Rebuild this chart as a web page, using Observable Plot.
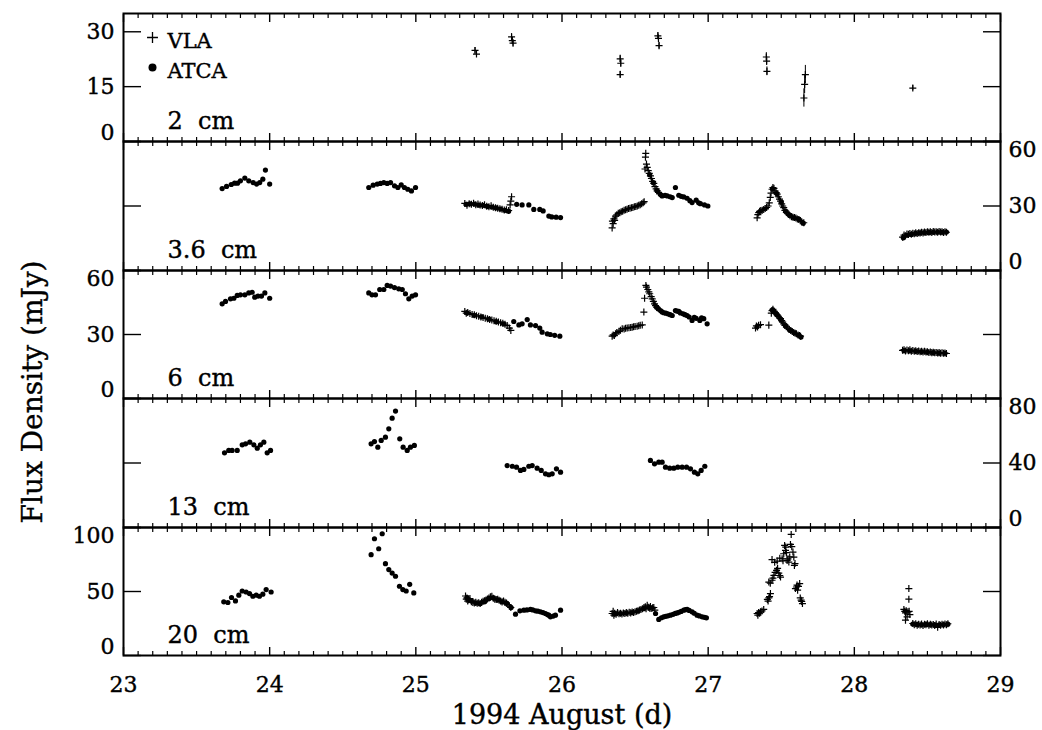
<!DOCTYPE html>
<html><head><meta charset="utf-8">
<script src="https://cdn.jsdelivr.net/npm/d3@7"></script>
<script src="https://cdn.jsdelivr.net/npm/@observablehq/plot@0.6"></script>
<style>
body{margin:0;background:#fff;}
#wrap{position:relative;width:1042px;height:730px;overflow:hidden;background:#fff;}
#ytitle{position:absolute;left:32px;top:392px;transform:translate(-50%,-50%) rotate(-90deg);white-space:nowrap;font-family:'DejaVu Serif',serif;font-size:28px;color:#000;-webkit-text-stroke:0.4px #000;}
#wrap svg{display:block;}
#wrap svg text{stroke:#000;stroke-width:0.4px;}
</style></head>
<body><div id="wrap"><div id="ytitle"></div></div>
<script>
// ---------- data ----------
const xTicks = [23, 24, 25, 26, 27, 28, 29];
const xTitle = "1994 August (d)";
const yTitle = "Flux Density (mJy)";
const legendLabels = ["VLA", "ATCA"];
const panelLabels = ["2\u00a0\u00a0cm", "3.6\u00a0\u00a0cm", "6\u00a0\u00a0cm", "13\u00a0\u00a0cm", "20\u00a0\u00a0cm"];
const ticks2cm = [0, 15, 30], ticks36 = [0, 30, 60], ticks6 = [0, 30, 60], ticks13 = [0, 40, 80], ticks20 = [0, 50, 100];
const dom2cm = [0, 35], dom36 = [0, 60], dom6 = [0, 60], dom13 = [0, 80], dom20 = [0, 100];

// [day, flux, error]
const vla2cm = [
[25.405,24.9,0.8],[25.415,23.9,0.8],
[25.655,28.6,0.9],[25.66,27.6,0.9],[25.665,26.9,0.9],
[26.398,22.6,1.0],[26.402,21.4,1.0],[26.398,18.3,0.9],
[26.656,28.9,0.9],[26.66,28.2,0.9],[26.664,26.2,0.9],
[27.398,23.1,1.2],[27.40,22.0,1.2],[27.402,19.2,1.2],
[27.665,18.3,2.5],[27.66,15.6,2.5],[27.655,11.9,2.5],
[28.40,14.6,0.7]
];

const atca36 = [
[23.675,38.1],[23.705,39.1],[23.737,40.0],[23.76,40.6],[23.78,40.6],[23.80,41.7],[23.83,43.0],[23.857,41.7],[23.887,40.9],[23.91,40.2],[23.932,40.9],[23.953,42.5],[23.971,46.7],[24.0,40.2],
[24.678,38.6],[24.708,39.7],[24.736,40.2],[24.758,40.5],[24.781,40.9],[24.804,40.5],[24.827,40.9],[24.854,39.4],[24.877,38.6],[24.90,39.8],[24.922,38.6],[24.945,37.8],[24.97,37.0],[24.998,38.6],
[25.345,30.8],[25.37,31.0],[25.40,30.9],[25.43,30.4],[25.46,30.3],[25.49,29.8],[25.52,29.5],[25.55,29.1],[25.58,28.6],[25.61,28.0],[25.635,27.6],
[25.69,30.8],[25.727,30.5],[25.773,30.5],[25.807,28.4],[25.848,28.4],[25.871,27.7],[25.91,25.3],[25.93,24.9],[25.96,24.8],[25.99,24.6],
[26.60,44.5],[26.625,40.8],[26.65,37.2],[26.674,35.3],
[26.685,34.7],[26.705,34.9],[26.72,34.7],[26.74,34.3],[26.754,33.9],[26.776,38.6],[26.799,35.0],[26.815,34.5],[26.833,34.2],[26.856,33.6],[26.875,32.5],[26.89,31.6],[26.918,32.7],[26.935,31.5],[26.947,31.1],[26.975,30.5],[26.998,30.0],
[27.44,38.0],[27.47,35.8],[27.50,31.8],[27.53,27.6],[27.56,25.6],[27.59,24.5],[27.62,23.9],[27.65,22.0],
[28.335,15.2],[28.36,16.4],[28.39,16.8],[28.42,17.3],[28.45,17.5],[28.48,17.6],[28.51,17.7],[28.54,17.8],[28.57,17.9],[28.60,17.8],[28.63,17.9]
];
const vla36 = [
[25.335,31.2],[25.35,30.4],[25.365,31.0],[25.38,30.8],[25.395,31.3],[25.41,30.6],[25.425,30.9],[25.44,30.5],[25.455,30.2],[25.47,30.6],[25.485,29.9],[25.50,29.7],[25.515,30.1],[25.53,29.4],[25.545,29.2],[25.56,29.0],[25.575,28.7],[25.59,28.5],[25.605,28.1],[25.62,28.3],[25.635,27.9],[25.645,30.5],[25.65,32.3],[25.655,34.3],
[26.343,19.8],[26.345,23.0],[26.35,21.8],[26.355,24.0],[26.36,23.3],[26.366,25.3],[26.375,25.9],[26.385,26.6],[26.395,26.9],[26.405,27.3],[26.415,27.6],[26.425,28.0],[26.435,28.3],[26.445,28.5],[26.455,28.8],[26.465,29.0],[26.475,29.2],[26.485,29.3],[26.495,29.6],[26.505,29.8],[26.515,30.0],[26.525,30.3],[26.535,30.6],[26.545,31.0],[26.555,31.5],[26.562,32.0],
[26.568,47.2],[26.571,52.7],[26.573,54.5],[26.578,49.5],[26.583,48.0],[26.59,46.5],[26.597,45.2],[26.605,44.0],[26.612,42.8],[26.62,41.5],[26.628,40.5],[26.636,39.0],[26.644,38.0],[26.651,37.0],[26.66,36.3],[26.668,35.8],
[27.335,24.5],[27.34,26.0],[27.346,26.9],[27.352,27.5],[27.36,27.9],[27.37,28.0],[27.38,28.4],[27.39,28.8],[27.40,29.3],[27.41,30.0],[27.418,31.5],[27.425,34.0],[27.43,36.0],[27.437,37.8],[27.443,38.6],[27.45,38.2],[27.457,37.0],[27.465,36.2],[27.472,35.5],[27.48,34.3],[27.488,33.2],[27.495,32.3],[27.503,31.0],[27.51,30.0],[27.517,29.2],[27.525,28.0],[27.535,27.0],[27.545,26.4],[27.552,26.1],[27.56,25.5],[27.57,25.0],[27.58,24.8],[27.59,24.6],[27.60,24.4],[27.61,24.0],[27.62,23.7],[27.63,23.2],[27.64,22.7],[27.654,22.2],
[28.33,15.5],[28.34,16.5],[28.35,16.2],[28.36,17.0],[28.37,16.8],[28.38,17.2],[28.39,16.9],[28.40,17.3],[28.41,17.1],[28.42,17.5],[28.43,17.2],[28.44,17.6],[28.45,17.4],[28.46,17.8],[28.47,17.5],[28.48,17.9],[28.49,17.7],[28.50,18.0],[28.51,17.8],[28.52,18.0],[28.53,17.7],[28.54,18.1],[28.55,17.9],[28.56,18.0],[28.57,17.8],[28.58,18.1],[28.59,17.9],[28.60,18.0],[28.61,17.7],[28.62,18.0],[28.63,17.8]
];

const atca6 = [
[23.675,44.4],[23.698,45.5],[23.732,46.7],[23.755,47.0],[23.778,48.3],[23.80,48.6],[23.83,48.6],[23.857,49.5],[23.88,49.8],[23.898,47.5],[23.92,48.0],[23.944,48.0],[23.967,49.5],[24.0,47.0],
[24.678,49.5],[24.70,48.6],[24.724,48.6],[24.753,51.1],[24.781,51.1],[24.804,53.0],[24.827,52.7],[24.854,52.0],[24.883,51.4],[24.907,51.1],[24.929,49.1],[24.952,46.7],[24.975,48.0],[24.998,48.6],
[25.35,40.2],[25.40,39.0],[25.45,38.3],[25.50,37.2],[25.55,36.0],[25.60,35.0],[25.67,36.1],[25.705,34.5],[25.727,35.0],[25.762,37.0],[25.784,34.5],[25.819,34.2],[25.848,33.0],[25.864,31.1],[25.899,30.3],[25.92,30.0],[25.95,29.6],[25.985,29.2],
[26.647,42.8],[26.66,42.0],[26.674,41.2],[26.685,40.6],[26.696,40.2],[26.71,40.0],[26.724,39.7],[26.74,39.3],[26.754,38.9],[26.776,41.2],[26.787,41.0],[26.799,40.8],[26.81,40.1],[26.829,39.7],[26.842,39.3],[26.856,38.9],[26.87,38.2],[26.89,36.6],[26.905,38.0],[26.918,37.6],[26.943,36.6],[26.955,37.8],[26.97,37.4],[26.993,35.0],
[27.44,41.5],[27.47,39.4],[27.50,36.8],[27.53,34.0],[27.56,32.0],[27.59,30.8],[27.62,29.6],[27.635,28.8],
[28.34,22.4],[28.38,22.3],[28.42,22.1],[28.46,21.9],[28.50,21.7],[28.54,21.5],[28.58,21.3],[28.62,21.2]
];
const vla6 = [
[25.335,40.8],[25.345,40.0],[25.355,40.3],[25.37,39.8],[25.385,39.4],[25.40,39.3],[25.415,38.8],[25.43,38.6],[25.445,38.2],[25.46,38.0],[25.475,37.6],[25.49,37.4],[25.505,37.0],[25.52,36.8],[25.535,36.4],[25.55,36.2],[25.565,35.9],[25.58,35.5],[25.595,35.3],[25.61,34.8],[25.625,34.2],[25.64,33.0],[25.65,31.9],
[26.343,29.2],[26.35,29.8],[26.358,29.5],[26.366,30.3],[26.375,30.9],[26.39,31.5],[26.40,32.0],[26.412,32.7],[26.425,32.6],[26.435,32.9],[26.446,33.0],[26.458,33.2],[26.47,33.3],[26.48,33.4],[26.49,33.6],[26.50,33.7],[26.514,33.9],[26.525,34.1],[26.535,34.3],[26.549,34.5],[26.56,40.5],[26.565,47.0],[26.574,53.0],[26.578,52.2],[26.587,51.1],[26.594,50.0],[26.60,49.1],[26.61,47.8],[26.617,46.7],[26.625,45.5],[26.633,44.4],[26.64,43.5],[26.647,42.8],
[27.324,33.0],[27.33,34.0],[27.338,33.5],[27.345,34.3],[27.358,34.6],[27.415,34.4],[27.432,40.0],[27.437,41.2],[27.443,41.8],[27.45,41.0],[27.454,40.5],[27.46,40.0],[27.466,39.6],[27.472,39.2],[27.48,38.5],[27.488,37.8],[27.495,37.4],[27.503,36.5],[27.51,35.8],[27.517,35.0],[27.525,34.3],[27.535,33.6],[27.545,33.0],[27.555,32.4],[27.565,31.9],[27.575,31.4],[27.585,30.9],[27.595,30.6],[27.604,30.3],[27.615,29.8],[27.625,29.5],[27.632,29.2],
[28.33,22.6],[28.34,22.9],[28.35,22.3],[28.36,22.7],[28.37,22.4],[28.38,22.8],[28.39,22.2],[28.40,22.5],[28.41,22.1],[28.42,22.4],[28.43,22.0],[28.44,22.3],[28.45,21.9],[28.46,22.2],[28.47,21.8],[28.48,22.1],[28.49,21.8],[28.50,21.9],[28.51,21.6],[28.52,21.8],[28.53,21.5],[28.54,21.7],[28.55,21.4],[28.56,21.6],[28.57,21.3],[28.58,21.5],[28.59,21.2],[28.60,21.4],[28.61,21.2],[28.62,21.3],[28.63,21.1]
];

const atca13 = [
[23.691,46.3],[23.72,47.8],[23.743,47.8],[23.778,47.8],[23.812,51.3],[23.835,51.9],[23.864,52.9],[23.892,51.3],[23.915,49.2],[23.937,51.3],[23.96,52.9],[23.983,46.3],[24.006,47.8],
[24.694,51.9],[24.717,53.3],[24.74,49.8],[24.763,54.0],[24.792,56.0],[24.815,61.2],[24.838,67.8],[24.861,72.2],[24.89,55.0],[24.913,49.8],[24.941,47.8],[24.963,49.8],[24.99,50.9],
[25.625,38.4],[25.66,38.0],[25.689,37.4],[25.716,35.4],[25.739,36.0],[25.773,38.0],[25.796,38.4],[25.83,36.8],[25.858,35.4],[25.887,33.3],[25.91,32.7],[25.933,33.3],[25.962,36.4],[25.99,34.3],
[26.605,41.6],[26.633,39.5],[26.662,40.5],[26.685,40.5],[26.708,37.4],[26.737,36.8],[26.765,36.8],[26.792,37.4],[26.822,37.4],[26.852,37.4],[26.879,36.4],[26.906,34.3],[26.929,33.3],[26.952,35.4],[26.977,38.0]
];
const vla13 = [];

const atca20 = [
[23.686,41.9],[23.714,41.4],[23.739,45.3],[23.766,42.6],[23.789,47.1],[23.812,50.4],[23.839,49.6],[23.862,48.4],[23.885,46.3],[23.908,47.1],[23.93,46.3],[23.953,47.9],[23.976,51.5],[24.01,49.6],
[24.694,78.8],[24.717,91.2],[24.746,83.4],[24.77,95.1],[24.792,71.7],[24.815,67.1],[24.838,64.4],[24.861,61.9],[24.888,54.1],[24.911,51.5],[24.934,50.4],[24.958,55.6],[24.986,48.9],
[25.35,45.2],[25.38,42.5],[25.41,41.0],[25.44,40.6],[25.47,42.0],[25.50,44.5],[25.53,45.0],[25.56,43.5],[25.59,42.0],[25.62,41.0],[25.652,37.5],[25.682,32.3],[25.712,34.9],[25.739,35.4],[25.76,35.6],[25.784,36.0],[25.80,35.6],[25.819,34.9],[25.835,34.6],[25.853,34.1],[25.87,33.5],[25.887,32.8],[25.90,32.0],[25.91,31.5],[25.921,30.2],[25.94,30.8],[25.955,31.5],[25.99,35.4],
[26.36,32.5],[26.40,32.8],[26.44,33.2],[26.48,33.6],[26.52,34.8],[26.56,36.7],[26.60,37.4],
[26.64,32.8],[26.662,28.2],[26.68,29.5],[26.696,30.2],[26.71,30.6],[26.725,31.0],[26.742,31.5],[26.76,32.2],[26.775,32.9],[26.788,33.3],[26.80,33.8],[26.815,34.4],[26.833,35.4],[26.845,35.8],[26.856,36.0],[26.87,35.2],[26.89,34.1],[26.905,33.0],[26.924,31.5],[26.94,30.9],[26.959,30.2],[26.975,29.8],[26.988,29.4],
[28.40,24.6],[28.43,24.3],[28.46,24.0],[28.49,24.3],[28.52,24.1],[28.55,24.0],[28.58,23.9],[28.61,24.2],[28.64,24.5]
];
const vla20 = [
[25.34,46.5],[25.345,44.0],[25.35,45.0],[25.355,42.5],[25.36,43.5],[25.37,44.5],[25.38,42.0],[25.39,41.5],[25.40,41.0],[25.41,41.5],[25.42,40.8],[25.43,41.2],[25.44,40.6],[25.45,41.5],[25.46,42.3],[25.47,42.8],[25.48,43.4],[25.49,44.2],[25.50,45.0],[25.51,45.8],[25.52,46.3],[25.53,44.8],[25.54,44.0],[25.55,43.7],[25.56,44.0],[25.57,43.2],[25.58,42.5],[25.59,41.9],[25.60,42.5],[25.61,41.5],[25.62,41.1],[25.63,39.8],[25.64,38.5],[25.65,37.5],
[26.343,32.8],[26.35,34.5],[26.355,31.5],[26.36,33.0],[26.37,32.3],[26.38,33.5],[26.39,32.6],[26.40,33.0],[26.41,32.4],[26.42,33.2],[26.43,32.8],[26.44,33.5],[26.45,33.0],[26.46,33.8],[26.47,33.3],[26.48,34.0],[26.49,33.6],[26.50,34.2],[26.51,34.6],[26.52,35.0],[26.53,35.5],[26.54,36.0],[26.55,36.5],[26.56,37.2],[26.57,38.0],[26.575,36.5],[26.583,39.3],[26.59,37.6],[26.60,37.0],[26.605,38.2],[26.61,36.8],[26.62,37.2],[26.628,37.5],[26.635,35.5],
[27.335,32.8],[27.34,31.5],[27.345,33.5],[27.352,33.0],[27.358,34.1],[27.368,34.8],[27.38,36.0],[27.405,43.8],[27.41,42.5],[27.415,45.0],[27.42,46.0],[27.426,48.4],[27.415,57.4],[27.425,56.5],[27.437,58.8],[27.443,60.5],[27.45,62.6],[27.458,65.0],[27.468,66.5],[27.475,68.0],[27.483,64.4],[27.49,62.5],[27.495,61.3],[27.437,74.9],[27.455,72.8],[27.472,73.8],[27.49,76.0],[27.506,75.6],[27.512,74.0],[27.517,79.5],[27.523,86.0],[27.529,82.1],[27.531,84.7],[27.535,80.3],[27.54,74.3],[27.546,75.5],[27.552,73.0],[27.558,77.0],[27.563,86.8],[27.568,94.6],[27.572,85.0],[27.58,80.8],[27.586,76.9],[27.59,70.4],[27.594,71.8],[27.597,52.3],[27.604,53.5],[27.608,55.0],[27.612,51.0],[27.618,54.0],[27.626,56.2],[27.63,45.0],[27.636,43.2],[27.64,42.2],[27.645,40.6],
[28.339,36.0],[28.345,34.5],[28.35,33.3],[28.355,35.0],[28.35,27.6],[28.361,30.2],[28.367,34.1],[28.373,52.3],[28.373,44.0],[28.375,34.5],[28.38,32.0],
[28.40,25.0],[28.41,24.0],[28.42,24.8],[28.43,23.6],[28.44,24.5],[28.45,23.9],[28.46,24.6],[28.47,23.5],[28.48,24.4],[28.49,24.0],[28.50,24.8],[28.51,23.7],[28.52,24.5],[28.53,23.9],[28.54,24.3],[28.55,23.4],[28.56,24.6],[28.57,22.0],[28.58,24.2],[28.59,23.6],[28.60,24.5],[28.61,23.8],[28.62,24.6],[28.63,24.0],[28.64,24.8]
];

// ---------- layout ----------
const panels = [
  {label: panelLabels[0], domain: dom2cm, ticks: ticks2cm, side: "left",  vla: vla2cm, atca: [], err: true},
  {label: panelLabels[1], domain: dom36,  ticks: ticks36,  side: "right", vla: vla36,  atca: atca36},
  {label: panelLabels[2], domain: dom6,   ticks: ticks6,   side: "left",  vla: vla6,   atca: atca6},
  {label: panelLabels[3], domain: dom13,  ticks: ticks13,  side: "right", vla: vla13,  atca: atca13},
  {label: panelLabels[4], domain: dom20,  ticks: ticks20,  side: "left",  vla: vla20,  atca: atca20}
];
const heights = [141, 129, 128, 129, 203];
const FONT = "'DejaVu Serif', serif";
const minorX = d3.ticks(23, 29, 60).filter(t => Math.abs(t - Math.round(t)) > 1e-6);
const wrap = document.getElementById("wrap");
document.getElementById("ytitle").textContent = yTitle;

panels.forEach((p, i) => {
  const marks = [];
  if (p.err) marks.push(Plot.ruleX(p.vla, {x: d => d[0], y1: d => d[1] - d[2], y2: d => d[1] + d[2], stroke: "black", strokeWidth: 1}));
  marks.push(Plot.dot(p.atca, {x: d => d[0], y: d => d[1], r: 2.6, fill: "black", stroke: null}));
  marks.push(Plot.dot(p.vla, {x: d => d[0], y: d => d[1], symbol: "plus", r: 2.4, stroke: "black", strokeWidth: 1.2}));
  for (const a of ["top", "bottom"]) {
    marks.push(Plot.axisX(minorX, {anchor: a, tickSize: -4, tickFormat: () => "", strokeWidth: 1.2, label: null}));
    marks.push(Plot.axisX(xTicks, {anchor: a, tickSize: -8, tickFormat: () => "", strokeWidth: 1.4, label: null}));
  }
  for (const a of ["left", "right"]) {
    marks.push(Plot.axisY(p.ticks, {anchor: a, tickSize: -18, tickFormat: () => "", strokeWidth: 1.4, label: null}));
  }
  for (const t of p.ticks) {
    const la = t === p.domain[0] ? "bottom" : t === p.domain[1] ? "top" : "middle";
    marks.push(Plot.axisY([t], {anchor: p.side, tickSize: 0, tickPadding: p.side === "left" ? 9 : 8,
      lineAnchor: la, dy: la === "bottom" ? -2 : 0, label: null, fontSize: 22, tickFormat: d3.format("d")}));
  }
  marks.push(Plot.frame({stroke: "black", strokeWidth: 2}));
  marks.push(Plot.text([p.label], {frameAnchor: "bottom-left", text: d => d, textAnchor: "start", lineAnchor: "bottom", dx: 44, dy: -13, fontSize: 24}));
  if (i === 0) {
    marks.push(Plot.dot([legendLabels[0]], {frameAnchor: "top-left", symbol: "plus", r: 3.6, stroke: "black", strokeWidth: 1.3, dx: 29, dy: 24}));
    marks.push(Plot.dot([legendLabels[1]], {frameAnchor: "top-left", r: 4, fill: "black", stroke: null, dx: 29, dy: 54}));
    marks.push(Plot.text([legendLabels[0]], {frameAnchor: "top-left", text: d => d, textAnchor: "start", lineAnchor: "middle", dx: 44, dy: 28, fontSize: 21}));
    marks.push(Plot.text([legendLabels[1]], {frameAnchor: "top-left", text: d => d, textAnchor: "start", lineAnchor: "middle", dx: 44, dy: 58, fontSize: 21}));
  }
  if (i === 4) {
    marks.push(Plot.axisX(xTicks, {anchor: "bottom", tickSize: 0, tickPadding: 21, fontSize: 22, label: null, tickFormat: d3.format("d")}));
    marks.push(Plot.text([xTitle], {frameAnchor: "bottom", text: d => d, lineAnchor: "middle", dy: 60, fontSize: 27}));
  }
  const svg = Plot.plot({
    width: 1042,
    height: heights[i],
    marginLeft: 123,
    marginRight: 42,
    marginTop: i === 0 ? 13 : 0,
    marginBottom: i === 4 ? 75 : 0,
    x: {domain: [23, 29]},
    y: {domain: p.domain},
    style: {fontFamily: FONT, fontSize: "22px", color: "black", background: "transparent", overflow: "visible"},
    marks
  });
  wrap.appendChild(svg);
});
</script>
</body></html>
